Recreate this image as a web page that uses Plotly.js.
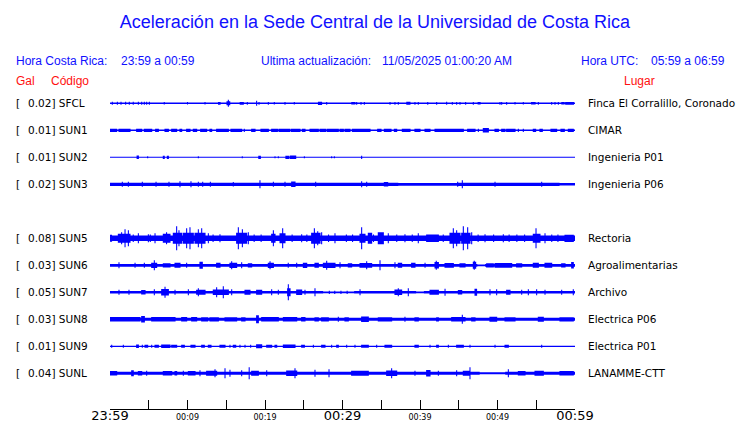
<!DOCTYPE html>
<html><head><meta charset="utf-8">
<script src="https://cdn.plot.ly/plotly-3.0.1.min.js"></script>
<style>html,body{margin:0;padding:0;background:#fff;}#chart{width:740px;height:423px;}</style>
</head><body><div id="chart"></div>
<script>
// ---- data ----
const codes  = ['SFCL','SUN1','SUN2','SUN3','SUN5','SUN6','SUN7','SUN8','SUN9','SUNL'];
const gals   = ['0.02','0.01','0.01','0.02','0.08','0.03','0.05','0.03','0.01','0.04'];
const places = ['Finca El Corralillo, Coronado','CIMAR','Ingenieria P01','Ingenieria P06','Rectoria',
                'Agroalimentarias','Archivo','Electrica P06','Electrica P01','LANAMME-CTT'];
const rowIndex = [0,1,2,3,5,6,7,8,9,10];
const tickMinutes = [0,5,10,15,20,25,30,35,40,45,50,55,60];
const tickSmall = ['','','00:09','','00:19','','','','00:39','','00:49','',''];
const tickBigVals = [0,30,60];
const tickBig = ['23:59','00:29','00:59'];

// relative amplitude (1 unit = 1/27 of the trace spacing); time in minutes after 23:59
const base_SFCL = [[0,60,0.7]];
const ev_SFCL = [[0.3,1.5],[0.95,1.5],[1.42,1.5],[2.02,1.5],[2.49,1.5],[3.0,1.5],[3.66,1.5],[4.09,1.5],[4.43,1.5],[4.73,1.5],[5.08,1.5],[7.0,1.2],[10.0,1.2],[12.26,1.2],[14.0,14.2,1.4],[15.1,15.45,2.0],[15.27,3.5],[16.8,17.2,1.4],[17.72,1.4],[18.92,2.5],[19.23,1.4],[20.43,1.4],[21.2,1.2],[22.58,1.4],[23.78,1.2],[26.9,27.3,1.6],[27.96,1.4],[31.2,31.6,1.3],[31.83,1.4],[32.39,1.4],[32.82,1.4],[36.13,1.4],[36.77,1.4],[37.2,1.4],[38.3,38.7,1.5],[39.35,1.4],[39.78,1.4],[41.0,1.4],[42.15,1.4],[43.44,1.5],[44.17,1.4],[44.73,1.4],[45.16,1.4],[45.89,1.4],[46.88,1.4],[47.5,47.75,1.3],[50.32,1.4],[50.54,1.4],[51.18,1.4],[52.26,1.2],[53.33,1.2],[54.4,54.85,1.3],[55.27,1.4],[56.99,1.4],[57.42,1.4],[57.85,1.4],[58.3,58.6,1.3],[58.8,59.8,1.4]];

const base_SUN1 = [[0,60,0.8]];
const ev_SUN1 = [[0,0.86,1.6],[1.16,2.58,1.6],[3.44,4.09,1.6],[4.43,5.38,1.6],[5.89,6.24,1.6],[7.1,7.53,1.6],[7.96,8.6,1.6],[9.03,9.25,1.6],[9.89,10.32,1.6],[10.75,11.18,1.6],[11.7,12.47,1.6],[12.9,13.12,1.6],[13.76,15.27,1.6],[15.61,16.99,1.6],[17.33,1.6],[18.28,18.71,1.6],[19.48,20.43,1.6],[20.86,21.6,1.6],[21.8,23.2,1.6],[23.4,24.52,1.6],[24.82,25.16,1.6],[25.81,26.88,1.6],[27.1,27.8,1.6],[28.0,29.46,1.6],[29.68,30.11,1.6],[30.32,30.97,1.6],[31.27,33.55,1.6],[34.54,34.97,1.6],[35.4,36.26,1.6],[36.69,36.99,1.6],[37.72,38.71,1.6],[39.35,40.0,1.6],[40.65,41.29,1.6],[41.94,45.59,1.6],[46.15,47.1,1.6],[47.53,1.6],[48.17,48.82,2.2],[49.68,50.11,1.6],[50.54,50.97,1.6],[51.18,52.26,1.6],[52.69,1.6],[53.33,1.6],[54.62,54.92,1.6],[55.48,55.78,1.6],[56.9,57.63,1.6],[58.19,58.62,1.6],[59.14,59.78,1.6]];

const base_SUN2 = [[0,60,0.5]];
const ev_SUN2 = [[3.5,3.66,1.8],[4.86,1.0],[6.88,7.0,1.6],[7.4,7.53,1.6],[11.4,1.0],[17.07,1.0],[19.2,19.4,1.6],[21.29,1.0],[21.72,1.0],[22.7,23.1,1.6],[23.3,23.96,1.8],[25.08,1.0],[28.6,1.0],[28.95,1.0],[32.47,1.6]];

const base_SUN3 = [[0,37.2,1.6],[37.2,44.8,1.4],[44.8,58.0,1.6],[58.0,60,1.3]];
const ev_SUN3 = [[1.59,2.5],[2.37,2.5],[4.17,2.5],[5.94,2.5],[7.61,2.5],[9.03,3],[10.45,3],[11.4,2.5],[11.96,2.5],[12.95,2.5],[15.91,2.3],[19.35,4],[21.08,2.5],[22.58,2.5],[23.44,23.87,2.7],[26.54,2.5],[32.47,3],[33.12,2.5],[35.4,35.83,2.3],[44.86,2.5],[45.46,4],[49.68,2.5],[55.7,2.5]];

const base_SUN5 = [[0,60,2.7]];
const ev_SUN5 = [[0,0.2,3.5],[1.08,2.58,4.5],[1.5,6],[1.94,9],[2.37,8],[3.0,3.8],[3.66,5],[4.95,4],[5.2,3.8],[5.81,5],[6.88,7.74,4.5],[7.3,6],[8.17,9.25,5.5],[8.6,12],[8.9,8],[9.46,10.75,5.5],[9.89,10],[10.32,11],[10.97,12.26,5.5],[11.4,9],[11.83,10],[12.69,5],[13.3,3.8],[14.19,4],[16.34,17.63,5.5],[16.56,11],[17.08,9],[17.85,6],[18.6,3.8],[19.5,3.8],[20.86,21.29,4.5],[21.08,8],[21.94,22.58,5],[22.28,10],[23.5,3.8],[24.73,4],[25.4,3.8],[26.02,27.1,5.5],[26.37,10],[26.8,7],[27.31,6],[28.2,3.8],[29.03,5],[30.5,3.8],[31.3,3.8],[32.26,32.9,4.5],[32.47,11],[33.33,33.76,5.5],[34.0,3.8],[34.62,35.27,6],[35.91,5],[37.0,3.8],[38.06,4],[39.0,3.8],[39.78,5],[40.86,42.37,3.8],[43.0,3.8],[43.87,45.16,5.5],[44.3,10],[44.73,8],[45.38,46.45,5.5],[45.59,12],[46.15,11],[46.67,6],[47.5,3.8],[48.39,4],[49.5,3.8],[50.75,4],[51.5,3.8],[52.5,3.8],[53.5,3.8],[54.62,55.48,4.5],[54.97,10],[56.13,5],[57.0,3.8],[57.8,3.8],[58.71,59.78,3.6]];

const base_SUN6 = [[0,47.4,1.4],[47.4,48.4,0.9],[48.4,60,1.4]];
const ev_SUN6 = [[1.16,3],[3.23,2.5],[4.43,2.5],[5.38,6.02,2.6],[5.72,5],[6.88,7.74,2.1],[8.39,9.03,2.5],[9.89,2.5],[11.61,11.91,3.5],[13.76,14.19,2.5],[15.48,16.34,2.6],[15.7,4],[16.99,3],[17.85,18.28,2.1],[20.43,21.08,2.6],[20.65,4],[23.0,2.5],[24.09,2.5],[24.95,25.38,2.6],[26.45,26.88,2.5],[27.53,29.03,2.6],[27.96,4.5],[29.68,3],[30.75,31.18,2.1],[32.26,33.76,2.4],[33.12,4],[34.84,5],[36.77,3],[37.2,37.63,2.5],[38.92,39.35,2.5],[40.65,2.5],[41.94,42.37,3.2],[42.1,4.5],[43.23,44.3,2.4],[45.16,45.81,2.1],[46.88,47.18,3.5],[47.0,4.5],[48.6,49.46,2.1],[49.68,51.83,2.4],[52.47,53.12,2.1],[54.62,55.27,2.5],[56.13,56.99,2.5],[58.28,58.71,2.1],[59.57,59.78,3.2]];

const base_SUN7 = [[0,27.5,1.3],[27.5,31.5,0.9],[31.5,39.5,1.3],[39.5,40.5,0.9],[40.5,60,1.3]];
const ev_SUN7 = [[1.16,2.5],[2.45,2.5],[4.09,4.52,2.2],[5.72,3],[6.67,7.53,3.2],[7.1,5.5],[8.39,2.5],[10.11,3],[11.18,12.26,2.5],[11.4,4],[13.33,15.27,2.8],[13.76,5],[14.62,6],[15.7,3],[17.42,18.06,2.5],[18.92,19.57,2.5],[20.86,3],[21.72,2.5],[22.92,23.23,4],[23.01,8],[24.09,24.73,2.8],[25.16,2.5],[26.45,4],[28.3,1.6],[29.0,1.6],[29.8,1.6],[30.6,1.6],[32.26,3],[36.77,37.63,2.8],[37.2,4],[38.49,4],[41.29,42.37,2.5],[43.23,3.5],[44.95,45.38,2.2],[47.1,47.3,3.5],[49.03,3],[49.89,3],[51.18,51.61,2.5],[53.12,2.5],[53.98,3],[55.05,3],[56.13,2.5],[58.28,2.5],[59.78,3]];

const base_SUN8 = [[0,60,1.5]];
const ev_SUN8 = [[0,3.87,2.2],[4.09,4.43,3.2],[5.38,8.39,2.2],[9.25,9.89,2.2],[10.54,11.18,2.2],[11.83,12.6,2.1],[12.9,13.98,2.1],[14.84,16.34,2.1],[16.99,17.42,2.1],[18.92,19.14,4],[19.57,21.72,2.3],[22.37,24.09,2.3],[24.73,25.16,2.3],[26.45,26.88,2.1],[27.31,28.17,2.1],[29.46,2.5],[30.32,30.75,2.1],[32.47,33.33,2.8],[34.62,36.34,2.1],[38.06,2.5],[39.35,39.78,2.1],[42.15,42.37,2.1],[44.09,45.81,2.3],[45.46,4.5],[46.67,47.1,2.1],[49.03,49.89,2.5],[50.97,52.26,2.1],[55.27,55.91,2.5],[58.06,59.78,2.1]];

const base_SUN9 = [[0,60,0.6]];
const ev_SUN9 = [[0.22,1.5],[1.72,1.5],[3.44,3.66,1.8],[4.17,1.5],[4.52,4.86,1.5],[5.38,1.5],[5.81,6.24,1.5],[6.67,7.74,1.8],[7.96,8.6,1.5],[9.25,9.59,1.5],[10.45,10.97,1.5],[11.83,12.17,1.5],[12.69,13.03,1.5],[14.19,14.84,1.5],[15.48,1.5],[15.91,16.22,1.5],[16.77,1.5],[17.42,1.5],[18.15,1.5],[18.92,19.57,2],[20.22,20.86,1.5],[21.29,21.51,1.5],[22.37,23.87,1.8],[24.73,25.08,1.5],[26.24,1.5],[27.31,27.74,1.5],[28.6,1.5],[29.25,29.46,1.5],[30.54,1.5],[31.61,1.5],[32.47,33.33,1.5],[34.41,1.5],[35.48,36.34,1.5],[39.35,39.78,1.5],[41.29,1.5],[42.15,42.37,1.5],[43.66,1.5],[44.73,45.59,1.5],[46.45,1.5],[49.68,1.5],[50.97,51.4,1.5],[55.7,1.5]];

const base_SUNL = [[0,47.7,1.5],[47.7,51.0,1.0],[51.0,60,1.5]];
const ev_SUNL = [[0,0.86,2.2],[2.8,3.0,3],[3.66,4.09,2.2],[4.73,2.5],[6.88,7.96,2.2],[8.39,8.6,2.2],[9.46,2.5],[10.11,10.97,2.2],[11.61,3],[12.47,13.76,2.5],[13.55,4],[14.84,5],[15.48,3.5],[16.99,3],[17.96,6],[18.28,19.14,2.5],[20.22,3],[22.8,24.09,2.8],[23.87,5],[26.45,3.5],[28.26,4],[31.18,33.33,2.5],[35.7,36.99,2.8],[36.34,5],[39.35,2.5],[40.86,41.29,3.2],[42.37,2.5],[44.73,3],[45.59,46.45,2.5],[46.45,6],[51.4,4],[52.69,53.55,2.2],[54.84,55.91,2.5],[58.06,59.78,2.2]];

const baseList = [base_SFCL,base_SUN1,base_SUN2,base_SUN3,base_SUN5,base_SUN6,base_SUN7,base_SUN8,base_SUN9,base_SUNL];
const evList   = [ev_SFCL,ev_SUN1,ev_SUN2,ev_SUN3,ev_SUN5,ev_SUN6,ev_SUN7,ev_SUN8,ev_SUN9,ev_SUNL];

// ---- build ----
const AMP_PER_ROW = 27;
const EPS = 0.07;
const traces = [];
codes.forEach((c, i) => {
  const r = rowIndex[i];
  const xs = [], ys = [];
  const addRect = (t0, t1, a) => {
    const h = a / AMP_PER_ROW;
    const x0 = Math.max(0, t0 - EPS), x1 = Math.min(60, t1 + EPS);
    xs.push(x0, x1, x1, x0, x0, null);
    ys.push(r - h, r - h, r + h, r + h, r - h, null);
  };
  baseList[i].forEach(s => addRect(s[0] + EPS, s[1] - EPS, s[2]));
  evList[i].forEach(e => {
    if (e.length === 2) addRect(e[0], e[0], e[1]);
    else addRect(e[0], e[1], e[2]);
  });
  traces.push({
    x: xs, y: ys,
    type: 'scatter', mode: 'lines', fill: 'toself', fillcolor: '#0000ff',
    line: {color: '#0000ff', width: 0}, connectgaps: false, hoverinfo: 'skip', showlegend: false
  });
});
// empty trace carrying the second x axis (large time labels)
traces.push({x: [0, 60], y: [null, null], xaxis: 'x2', yaxis: 'y', mode: 'lines', showlegend: false, hoverinfo: 'skip'});

const L = 110, R = 575, PW = R - L;
const px = p => (p - L) / PW;
const PT = 88, PB = 409;
const ROW0 = 103.3, ROWSTEP = 27;
const py = p => (PB - p) / (PB - PT);
const blue = '#1010ff', red = '#ff1010';
const hFont = {family: 'Liberation Sans, Arial, sans-serif', size: 12};
const lFont = {family: 'DejaVu Sans, sans-serif', size: 10.5, color: '#000'};
const ann = [];
const addA = (x, yref, y, text, font) => ann.push({
  xref: 'paper', x: px(x), yref: yref, y: y, text: text, showarrow: false,
  xanchor: 'left', yanchor: 'middle', font: font, borderpad: 0
});
addA(15, 'paper', py(61), 'Hora Costa Rica:', Object.assign({color: blue}, hFont));
addA(120, 'paper', py(61), '23:59 a 00:59', Object.assign({color: blue}, hFont));
addA(260, 'paper', py(61), 'Ultima actualización:', Object.assign({color: blue}, hFont));
addA(381, 'paper', py(61), '11/05/2025 01:00:20 AM', Object.assign({color: blue}, hFont));
addA(580, 'paper', py(61), 'Hora UTC:', Object.assign({color: blue}, hFont));
addA(650, 'paper', py(61), '05:59 a 06:59', Object.assign({color: blue}, hFont));
addA(15, 'paper', py(81), 'Gal', Object.assign({color: red}, hFont));
addA(50, 'paper', py(81), 'Código', Object.assign({color: red}, hFont));
addA(623, 'paper', py(81), 'Lugar', Object.assign({color: red}, hFont));
codes.forEach((c, i) => {
  addA(15, 'y', rowIndex[i], '[', lFont);
  addA(27, 'y', rowIndex[i], gals[i] + '] ' + c, lFont);
  addA(587, 'y', rowIndex[i], places[i], lFont);
});

const layout = {
  width: 740, height: 423,
  margin: {l: L, r: 740 - R, t: PT, b: 423 - PB, pad: 0},
  paper_bgcolor: '#fff', plot_bgcolor: '#fff',
  title: {text: 'Aceleración en la Sede Central de la Universidad de Costa Rica',
          font: {family: 'Liberation Sans, Arial, sans-serif', size: 18, color: blue},
          xref: 'paper', x: px(375), xanchor: 'center', yref: 'container', y: 1 - 22/423, yanchor: 'middle'},
  xaxis: {range: [0, 60], tickvals: tickMinutes, ticktext: tickSmall, ticks: 'inside', ticklen: 9,
          tickcolor: '#000', tickwidth: 1, showline: true, linecolor: '#000', linewidth: 1,
          showgrid: false, zeroline: false, fixedrange: true,
          tickfont: {family: 'DejaVu Sans, sans-serif', size: 8, color: '#000'}},
  xaxis2: {range: [0, 60], overlaying: 'x', anchor: 'free', position: 3 / (PB - PT), side: 'bottom',
           tickvals: tickBigVals, ticktext: tickBig,
           ticks: '', showline: false, showgrid: false, zeroline: false,
           tickfont: {family: 'DejaVu Sans, sans-serif', size: 13, color: '#000'}},
  yaxis: {range: [10 + (PB - (ROW0 + 10 * ROWSTEP)) / ROWSTEP, -(ROW0 - PT) / ROWSTEP],
          visible: false, showgrid: false, zeroline: false},
  annotations: ann
};
Plotly.newPlot('chart', traces, layout, {staticPlot: true, displayModeBar: false});
</script></body></html>
